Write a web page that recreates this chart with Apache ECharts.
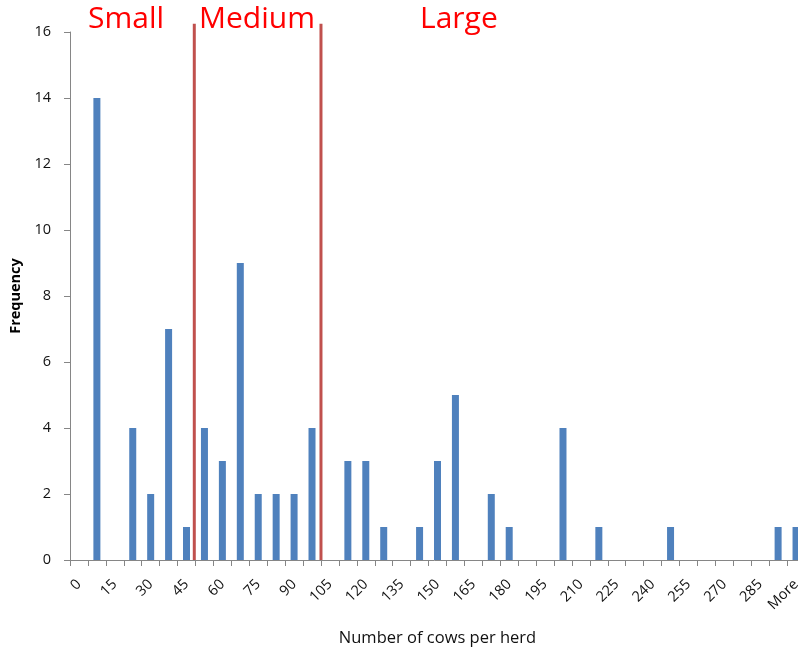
<!DOCTYPE html>
<html>
<head>
<meta charset="utf-8">
<script src="https://cdn.jsdelivr.net/npm/echarts@6/dist/echarts.min.js"></script>
<style>
  html, body { margin: 0; padding: 0; background: #fff; }
  #chart { width: 798px; height: 649px; }
</style>
</head>
<body>
<div id="chart"></div>
<script>
// Histogram bins (upper bin edges, 7.5 cows wide) and herd counts per bin
const categories = [
  '0', '7.5', '15', '22.5', '30', '37.5', '45', '52.5', '60', '67.5',
  '75', '82.5', '90', '97.5', '105', '112.5', '120', '127.5', '135', '142.5',
  '150', '157.5', '165', '172.5', '180', '187.5', '195', '202.5', '210', '217.5',
  '225', '232.5', '240', '247.5', '255', '262.5', '270', '277.5', '285', '292.5',
  'More'
];
const frequency = [
  0, 14, 0, 4, 2, 7, 1, 4, 3, 9,
  2, 2, 2, 4, 0, 3, 3, 1, 0, 1,
  3, 5, 0, 2, 1, 0, 0, 4, 0, 1,
  0, 0, 0, 1, 0, 0, 0, 0, 0, 1,
  1
];
const yTicks = [0, 2, 4, 6, 8, 10, 12, 14, 16];

// Herd size class boundaries (cows) and class names
const binWidth = 7.5;
const classBreaks = [52, 105];
const classLineTop = 16.25;
const classNames = ['Small', 'Medium', 'Large'];

const chart = echarts.init(document.getElementById('chart'), null, { renderer: 'canvas' });

const font = '"Open Sans", Lato, sans-serif';

const breakSeries = classBreaks.map(function (b) {
  return {
    type: 'line',
    xAxisIndex: 1,
    yAxisIndex: 0,
    data: [[b, 0], [b, classLineTop]],
    symbol: 'none',
    clip: false,
    silent: true,
    z: 5,
    lineStyle: { color: '#C0504D', width: 3 }
  };
});

const labelPos = [
  { x: 88, y: 19 },
  { x: 199, y: 19 },
  { x: 420, y: 19 }
];

chart.setOption({
  animation: false,
  backgroundColor: '#ffffff',
  grid: {
    left: 70, top: 32, width: 735, height: 528,
    containLabel: false,
    outerBoundsMode: 'none'
  },
  xAxis: [
    {
      type: 'category',
      data: categories,
      name: 'Number of cows per herd',
      nameLocation: 'middle',
      nameGap: 70,
      nameTextStyle: { fontFamily: font, fontSize: 16.5, color: '#111' },
      axisLine: { lineStyle: { color: '#868686', width: 1 } },
      axisTick: { show: true, interval: 0, length: 6, lineStyle: { color: '#868686' } },
      axisLabel: {
        interval: 1,
        rotate: 45,
        margin: 22,
        fontFamily: font,
        fontSize: 14.5,
        color: '#111'
      },
      splitLine: { show: false }
    },
    {
      type: 'value',
      min: 0,
      max: categories.length * binWidth,
      show: false
    }
  ],
  yAxis: {
    type: 'value',
    min: yTicks[0],
    max: yTicks[yTicks.length - 1],
    interval: 2,
    name: 'Frequency',
    nameLocation: 'middle',
    nameGap: 43,
    nameTextStyle: { fontFamily: font, fontSize: 14.5, fontWeight: 'bold', color: '#000' },
    axisLine: { show: true, lineStyle: { color: '#868686', width: 1 } },
    axisTick: { show: true, length: 6, lineStyle: { color: '#868686' } },
    axisLabel: { margin: 19, fontFamily: font, fontSize: 14.5, color: '#111' },
    splitLine: { show: false }
  },
  series: [
    {
      type: 'bar',
      data: frequency,
      barWidth: 7,
      itemStyle: { color: '#4F81BD' },
      z: 3
    }
  ].concat(breakSeries),
  graphic: classNames.map(function (name, i) {
    return {
      type: 'text',
      x: labelPos[i].x,
      y: labelPos[i].y,
      style: {
        text: name,
        fill: '#FF0000',
        font: '30px ' + font,
        verticalAlign: 'middle',
        align: 'left'
      }
    };
  })
});
</script>
</body>
</html>
